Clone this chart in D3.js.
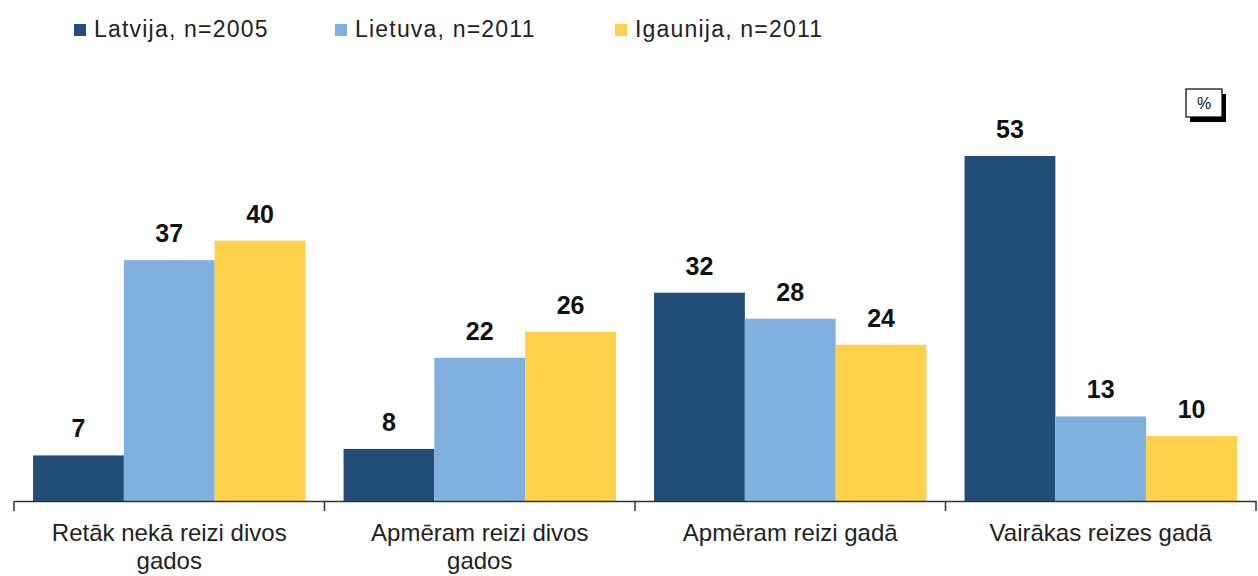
<!DOCTYPE html>
<html><head><meta charset="utf-8">
<script src="https://cdn.jsdelivr.net/npm/d3@7"></script>
<style>body{margin:0;background:#fff}svg{display:block;font-family:"Liberation Sans",Arial,sans-serif}</style>
</head><body><svg id="c" width="1258" height="576"></svg>
<script>
const categories = ["Retāk nekā reizi divos gados","Apmēram reizi divos gados","Apmēram reizi gadā","Vairākas reizes gadā"];
const seriesNames = ["Latvija, n=2005","Lietuva, n=2011","Igaunija, n=2011"];
const latvija = [7, 8, 32, 53];
const lietuva = [37, 22, 28, 13];
const igaunija = [40, 26, 24, 10];
const colors = ["#224d78","#7fb0de","#fdd149"];
const series = [latvija, lietuva, igaunija];

const svg = d3.select("#c");
const baseY = 501;
const x0 = d3.scaleBand().domain(categories).range([14, 1256]).paddingInner(0).paddingOuter(0);
const x1 = d3.scaleBand().domain(d3.range(3)).range([0, x0.bandwidth()]).paddingInner(0).paddingOuter(0.21);
const y = d3.scaleLinear().domain([0, 53]).range([baseY, 156]);

const g = svg.append("g");
categories.forEach((c, ci) => {
  series.forEach((s, si) => {
    const bx = x0(c) + x1(si);
    g.append("rect").attr("x", bx).attr("y", y(s[ci])).attr("width", x1.bandwidth())
      .attr("height", baseY - y(s[ci])).attr("fill", colors[si]);
    g.append("text").attr("x", bx + x1.bandwidth()/2).attr("y", y(s[ci]) - 18)
      .attr("text-anchor","middle").attr("font-size", 25).attr("font-weight","bold").attr("fill","#111")
      .text(s[ci]);
  });
});

// axis
const ax = svg.append("g").attr("transform", `translate(0,${baseY})`)
  .call(d3.axisBottom(x0).tickSize(0).tickFormat(""));
ax.select(".domain").attr("stroke","#333").attr("stroke-width",1.5);
const edges = categories.map(c => x0(c)).concat([x0.range()[1]]);
edges.forEach(e => svg.append("line").attr("x1", e).attr("x2", e).attr("y1", baseY).attr("y2", baseY+10).attr("stroke","#333").attr("stroke-width",1.5));

// category labels with wrapping
const labelLines = [["Retāk nekā reizi divos","gados"],["Apmēram reizi divos","gados"],["Apmēram reizi gadā"],["Vairākas reizes gadā"]];
categories.forEach((c, ci) => {
  const t = svg.append("text").attr("text-anchor","middle").attr("font-size",24).attr("fill","#222");
  labelLines[ci].forEach((ln, li) => {
    t.append("tspan").attr("x", x0(c) + x0.bandwidth()/2).attr("y", 541 + li*28).text(ln);
  });
});

// legend
const legX = [74, 335, 615];
seriesNames.forEach((n, i) => {
  svg.append("rect").attr("x", legX[i]).attr("y", 24).attr("width", 12).attr("height", 12).attr("fill", colors[i]);
  svg.append("text").attr("x", legX[i] + 20).attr("y", 37).attr("font-size", 23).attr("letter-spacing", 1.2).attr("fill","#222").text(n);
});

// % box
svg.append("rect").attr("x", 1190).attr("y", 94).attr("width", 36).attr("height", 28).attr("fill","#000");
svg.append("rect").attr("x", 1186).attr("y", 89).attr("width", 36).attr("height", 28).attr("fill","#fff").attr("stroke","#000").attr("stroke-width",1.2);
svg.append("text").attr("x", 1204).attr("y", 109).attr("text-anchor","middle").attr("font-size", 16).attr("fill","#111").text("%");
</script></body></html>
